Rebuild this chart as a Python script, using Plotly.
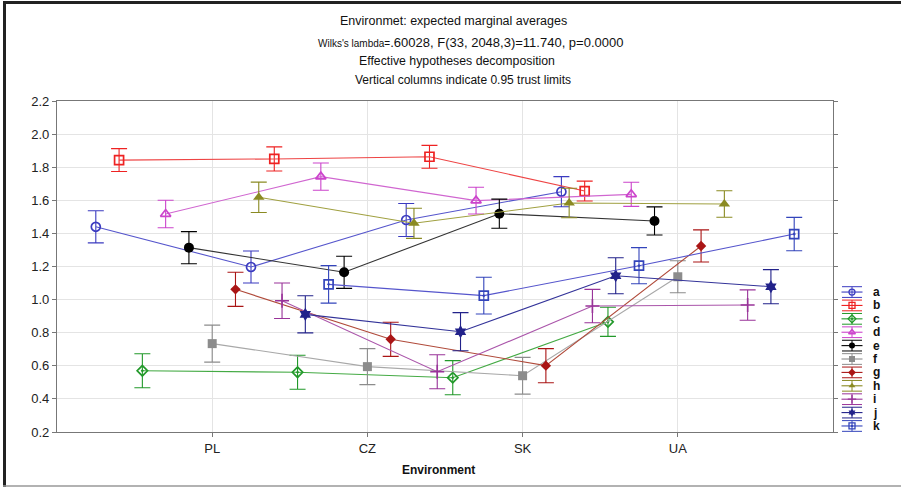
import plotly.graph_objects as go

categories = ["PL", "CZ", "SK", "UA"]
series_names = ["a", "b", "c", "d", "e", "f", "g", "h", "i", "j", "k"]

val_a = [1.440, 1.197, 1.481, 1.652]
val_b = [1.843, 1.850, 1.863, 1.656]
val_c = [0.570, 0.561, 0.528, 0.866]
val_d = [1.517, 1.743, 1.598, 1.636]
val_e = [1.314, 1.165, 1.519, 1.475]
val_f = [0.734, 0.595, 0.540, 1.138]
val_g = [1.062, 0.760, 0.601, 1.324]
val_h = [1.618, 1.461, 1.584, 1.578]
val_i = [0.993, 0.564, 0.961, 0.967]
val_j = [0.911, 0.806, 1.144, 1.078]
val_k = [1.092, 1.024, 1.205, 1.396]

err_a = [0.097, 0.097, 0.100, 0.091]
err_b = [0.069, 0.073, 0.069, 0.060]
err_c = [0.103, 0.103, 0.103, 0.088]
err_d = [0.083, 0.082, 0.081, 0.073]
err_e = [0.097, 0.097, 0.088, 0.085]
err_f = [0.112, 0.109, 0.111, 0.097]
err_g = [0.103, 0.103, 0.103, 0.097]
err_h = [0.092, 0.091, 0.089, 0.080]
err_i = [0.107, 0.103, 0.101, 0.092]
err_j = [0.112, 0.115, 0.109, 0.103]
err_k = [0.113, 0.111, 0.109, 0.101]

y_ticks = [0.2, 0.4, 0.6, 0.8, 1.0, 1.2, 1.4, 1.6, 1.8, 2.0, 2.2]

values = [val_a, val_b, val_c, val_d, val_e, val_f, val_g, val_h, val_i, val_j, val_k]
errors = [err_a, err_b, err_c, err_d, err_e, err_f, err_g, err_h, err_i, err_j, err_k]

# styles
colors = ["#3b3bc0", "#ee2222", "#22992a", "#cc44cc", "#000000", "#8c8c8c",
          "#aa1515", "#8a8a22", "#993399", "#22228a", "#3344bb"]
line_colors = ["#5555cc", "#ee4444", "#44aa44", "#d066d0", "#333333", "#a8a8a8",
               "#b04a3a", "#a0a040", "#aa55aa", "#333399", "#5555cc"]
symbols = ["circle-open", "square-open", "diamond-open-dot", "triangle-up-open",
           "circle", "square", "diamond", "triangle-up", "cross-thin", "hexagram",
           "square-open-dot"]
sizes = [9, 9, 8, 9, 10, 9, 8, 10, 10, 10, 9]

FONT = "Liberation Sans, Arial, sans-serif"
W, H = 901, 487
ML, MR, MT, MB = 57, 5, 101, 55
PW = W - ML - MR
PH = H - MT - MB
main_right = 776

def px_to_paper_x(px):
    return (px - ML) / PW

def px_to_paper_y(py):
    return (H - MB - py) / PH

fig = go.Figure()

n = len(series_names)
for s in range(n):
    off = (s - (n - 1) / 2) * 0.15
    xs = [ci + off for ci in range(len(categories))]
    msym = symbols[s]
    mline = dict(width=1.7 if "open" in msym else (1.6 if "thin" in msym else 0), color=colors[s])
    fig.add_trace(go.Scatter(
        x=xs, y=values[s], mode="lines+markers", name=series_names[s],
        line=dict(color=line_colors[s], width=1.1),
        marker=dict(symbol=msym, size=sizes[s], color=colors[s], line=mline),
        error_y=dict(type="data", array=errors[s], visible=True, color=colors[s],
                     thickness=1.1, width=8),
        showlegend=False, xaxis="x", yaxis="y",
    ))

# manual legend (drawn on its own small axes)
for s in range(n):
    fig.add_trace(go.Scatter(
        x=[-0.75, 0.75], y=[s, s], mode="lines",
        line=dict(color=colors[s], width=1.1), showlegend=False,
        xaxis="x2", yaxis="y2", hoverinfo="skip"))
    msym = symbols[s]
    mline = dict(width=1.3 if "open" in msym else (1.3 if "thin" in msym else 0), color=colors[s])
    fig.add_trace(go.Scatter(
        x=[0], y=[s], mode="markers",
        marker=dict(symbol=msym, size=6, color=colors[s], line=mline),
        error_y=dict(type="data", array=[0.4], visible=True, color=colors[s],
                     thickness=1, width=10),
        showlegend=False, xaxis="x2", yaxis="y2", hoverinfo="skip"))

annotations = []
for s in range(n):
    annotations.append(dict(
        x=px_to_paper_x(871), y=s, xref="paper", yref="y2", text="<b>%s</b>" % series_names[s],
        showarrow=False, xanchor="left", yanchor="middle",
        font=dict(family=FONT, size=12, color="#111111")))

title_lines = [
    ("Environmet: expected marginal averages", 12.5, 21, 453),
    ("<span style='font-size:10px'>Wilks's lambda=</span>.60028, F(33, 2048,3)=11.740, p=0.0000", 13, 43, 470),
    ("Effective hypotheses decomposition", 12.3, 61, 457),
    ("Vertical columns indicate 0.95 trust limits", 12, 80, 463),
]
for txt, fs, py, cx in title_lines:
    annotations.append(dict(
        x=px_to_paper_x(cx), y=px_to_paper_y(py), xref="paper", yref="paper",
        text=txt, showarrow=False, xanchor="center", yanchor="middle",
        font=dict(family=FONT, size=fs, color="#111111")))

annotations.append(dict(
    x=px_to_paper_x(438), y=px_to_paper_y(470), xref="paper", yref="paper",
    text="<b>Environment</b>", showarrow=False, xanchor="center", yanchor="middle",
    font=dict(family=FONT, size=12, color="#111111")))

frame = dict(color="#222222", width=3)
shapes = [
    dict(type="line", xref="paper", yref="paper",
         x0=px_to_paper_x(4.5), x1=px_to_paper_x(4.5),
         y0=px_to_paper_y(487), y1=px_to_paper_y(2.5), line=frame, layer="below"),
    dict(type="line", xref="paper", yref="paper",
         x0=px_to_paper_x(3), x1=px_to_paper_x(901),
         y0=px_to_paper_y(2.5), y1=px_to_paper_y(2.5), line=frame, layer="below"),
    dict(type="line", xref="paper", yref="paper",
         x0=px_to_paper_x(3), x1=px_to_paper_x(901),
         y0=px_to_paper_y(486), y1=px_to_paper_y(486),
         line=dict(color="#999999", width=1.5), layer="below"),
]

fig.update_layout(
    width=W, height=H,
    margin=dict(l=ML, r=MR, t=MT, b=MB),
    paper_bgcolor="white", plot_bgcolor="white",
    font=dict(family=FONT, color="#222222"),
    xaxis=dict(
        domain=[0, main_right / PW], range=[-1, 4],
        tickvals=list(range(len(categories))), ticktext=categories,
        showgrid=True, gridcolor="#e4e4e4", gridwidth=1,
        zeroline=False, showline=True, linecolor="#777777", linewidth=1.2,
        mirror=True, ticks="outside", ticklen=4, tickcolor="#777777",
        tickfont=dict(family=FONT, size=13, color="#222222"),
    ),
    yaxis=dict(
        range=[0.2, 2.2], tickvals=y_ticks,
        ticktext=["%.1f" % v for v in y_ticks],
        showgrid=True, gridcolor="#e4e4e4", gridwidth=1,
        zeroline=False, showline=True, linecolor="#777777", linewidth=1.2,
        mirror="ticks", ticks="outside", ticklen=4, tickcolor="#777777",
        tickfont=dict(family=FONT, size=13, color="#222222"),
    ),
    xaxis2=dict(
        domain=[px_to_paper_x(838), px_to_paper_x(866)], range=[-1, 1],
        visible=False, anchor="y2", fixedrange=True,
    ),
    yaxis2=dict(
        domain=[0, px_to_paper_y(280)], range=[10.45, -0.90],
        visible=False, anchor="x2", fixedrange=True,
    ),
    annotations=annotations,
    shapes=shapes,
    showlegend=False,
)

fig.write_html("out.html", config={"displayModeBar": False},
               post_script="document.body.style.margin='0';document.body.style.overflow='hidden';")
